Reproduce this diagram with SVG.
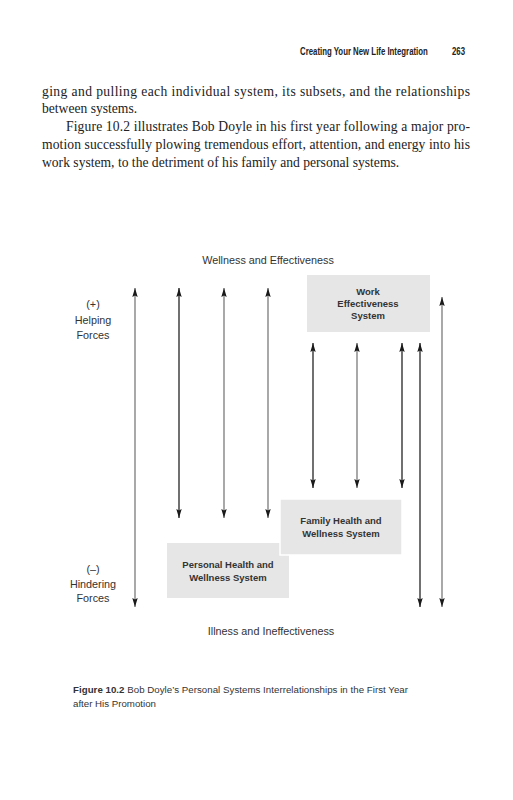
<svg xmlns="http://www.w3.org/2000/svg" width="513" height="800" viewBox="0 0 513 800">
<style>
.hdr{font-family:"Liberation Sans",Arial,sans-serif;font-weight:bold;font-size:10.5px;fill:#222}
.body{font-family:"Liberation Serif","Times New Roman",serif;font-size:13.6px;fill:#222}
.lbl{font-family:"Liberation Sans",Arial,sans-serif;font-size:10.8px;fill:#333}
.box{fill:#e6e6e6}
.bt{font-family:"Liberation Sans",Arial,sans-serif;font-weight:bold;font-size:9.5px;fill:#333;text-anchor:middle}
.cap{font-family:"Liberation Sans",Arial,sans-serif;font-size:9.7px;fill:#333}
.g{stroke:#7a7a7a;stroke-width:1.3;fill:none}
.k{stroke:#111;stroke-width:1.2;fill:none}
.arr{marker-start:url(#ah);marker-end:url(#ah)}
</style>
<defs>
<marker id="ah" markerUnits="userSpaceOnUse" markerWidth="10" markerHeight="7" refX="9" refY="3.5" orient="auto-start-reverse">
<path d="M0,0.8 L9,3.5 L0,6.2 L1.5,3.5 z" fill="#1a1a1a"/>
</marker>
</defs>
<rect width="513" height="800" fill="#fff"/>
<text class="hdr" transform="translate(300,55) scale(0.745,1)"><tspan x="0">Creating Your New Life Integration</tspan><tspan x="204">263</tspan></text>
<text class="body" x="42" y="96" textLength="428" lengthAdjust="spacing">ging and pulling each individual system, its subsets, and the relationships</text>
<text class="body" x="42" y="113">between systems.</text>
<text class="body" x="66" y="131" textLength="404" lengthAdjust="spacing">Figure 10.2 illustrates Bob Doyle in his first year following a major pro-</text>
<text class="body" x="42" y="149" textLength="428" lengthAdjust="spacing">motion successfully plowing tremendous effort, attention, and energy into his</text>
<text class="body" x="42" y="167">work system, to the detriment of his family and personal systems.</text>
<text class="lbl" x="268" y="264" text-anchor="middle">Wellness and Effectiveness</text>
<text class="lbl" x="93" y="308" text-anchor="middle">(+)</text>
<text class="lbl" x="93" y="324" text-anchor="middle">Helping</text>
<text class="lbl" x="93" y="339" text-anchor="middle">Forces</text>
<text class="lbl" x="93" y="573" text-anchor="middle">(–)</text>
<text class="lbl" x="93" y="588" text-anchor="middle">Hindering</text>
<text class="lbl" x="93" y="602" text-anchor="middle">Forces</text>
<text class="lbl" x="271" y="635" text-anchor="middle">Illness and Ineffectiveness</text>
<g id="connectors">
<line class="g arr" x1="135" y1="288" x2="135" y2="607"/>
<line class="k arr" x1="179" y1="288" x2="179" y2="518"/>
<line class="g arr" x1="224" y1="288" x2="224" y2="518"/>
<line class="g arr" x1="268" y1="288" x2="268" y2="518"/>
<line class="k arr" x1="313" y1="343" x2="313" y2="488"/>
<line class="g arr" x1="357" y1="343" x2="357" y2="488"/>
<line class="k arr" x1="402" y1="343" x2="402" y2="488"/>
<line class="k arr" x1="420" y1="343" x2="420" y2="607"/>
<line class="g arr" x1="442" y1="297" x2="442" y2="607"/>
</g>
<g id="work">
<rect class="box" x="307" y="275" width="123" height="57"/>
<text class="bt" x="368" y="295">Work</text>
<text class="bt" x="368" y="307">Effectiveness</text>
<text class="bt" x="368" y="319">System</text>
</g>
<g id="personal">
<rect class="box" x="167" y="543" width="122" height="55"/>
<text class="bt" x="228" y="568">Personal Health and</text>
<text class="bt" x="228" y="581">Wellness System</text>
</g>
<g id="family">
<rect class="box" x="280" y="499" width="122" height="56" stroke="#fff" stroke-width="1.5"/>
<text class="bt" x="341" y="524">Family Health and</text>
<text class="bt" x="341" y="537">Wellness System</text>
</g>
<text class="cap" x="73" y="693" textLength="335" lengthAdjust="spacing"><tspan font-weight="bold">Figure 10.2</tspan>  Bob Doyle’s Personal Systems Interrelationships in the First Year</text>
<text class="cap" x="73" y="707">after His Promotion</text>
</svg>
